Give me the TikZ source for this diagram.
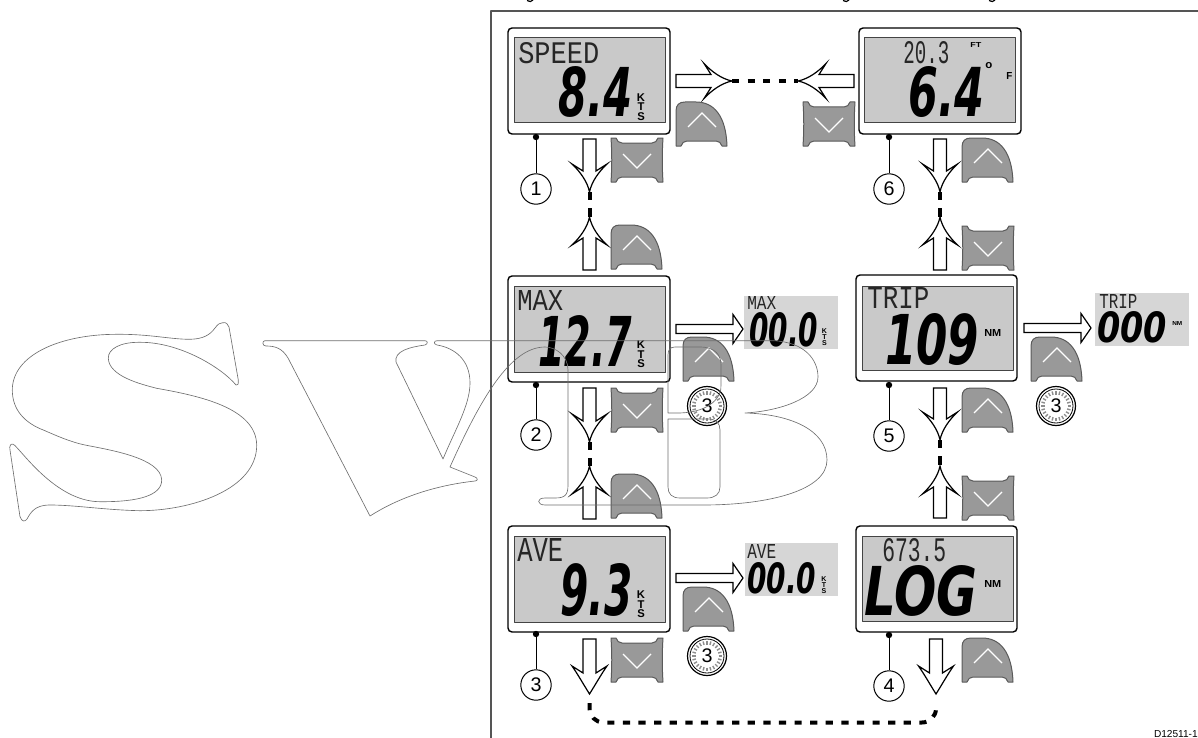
\documentclass[tikz,border=0pt]{standalone}
\usepackage{fontspec}
\usepackage{graphicx}
\setmainfont{Liberation Sans}
\setmonofont{Liberation Mono}
\newfontfamily\lcdfont{DejaVu Sans}
\definecolor{framegray}{HTML}{555555}
\definecolor{lcdgray}{HTML}{C9C9C9}
\definecolor{lcdpale}{HTML}{D6D6D6}
\definecolor{lcdedge}{HTML}{444444}
\definecolor{btngray}{HTML}{999999}
\definecolor{btnedge}{HTML}{5A5A5A}
\definecolor{wmgray}{HTML}{6E6E6E}
\newlength{\pxu}
\setlength{\pxu}{0.25mm}
\newcommand{\lcdtext}[3]{\resizebox{#1\pxu}{#2\pxu}{#3}}

\begin{document}
\begin{tikzpicture}[
  x=0.25mm,y=-0.25mm,line cap=butt,line join=round,
  panel/.style={draw=black,fill=white,line width=0.35mm,rounded corners=1mm},
  screen/.style={draw=lcdedge,fill=lcdgray,line width=0.25mm},
  lcdnum/.style={inner sep=0pt,anchor=south west,font=\lcdfont\bfseries\itshape},
  lcdunit/.style={inner sep=0pt,anchor=south west,font=\bfseries},
  lcdword/.style={inner sep=0pt,anchor=south west,text=black!85,font=\ttfamily},
  unitbig/.style={inner sep=0pt,align=center,font=\fontsize{8}{6.8}\selectfont\bfseries},
  unitsmall/.style={inner sep=0pt,align=center,font=\fontsize{5}{4.3}\selectfont\bfseries},
  stepno/.style={circle,draw=black,fill=white,line width=0.25mm,minimum size=7.6mm,inner sep=0pt,font=\fontsize{14}{16}\selectfont},
  leaddot/.style={circle,fill=black,minimum size=1.6mm,inner sep=0pt},
  clockno/.style={inner sep=0pt,font=\fontsize{14}{16}\selectfont},
  linkdash/.style={black,line width=1mm,dash pattern=on 1.8mm off 2.1mm},
  btn/.style={draw=btnedge,fill=btngray,line width=0.25mm},
  chev/.style={white,line width=0.3mm,line join=miter},
  pics/upbtn/.style={code={
    \draw[btn] (0,44) -- (0,9) .. controls (0,3) and (3,0) .. (9,0) -- (20,0)
      .. controls (38,0) and (50,14) .. (51,44) -- (46,44)
      .. controls (45,41) and (43,39) .. (40,39) -- (11,39)
      .. controls (8,39) and (6,41) .. (5,44) -- cycle;
    \draw[chev] (12,25) -- (26,11) -- (40,25);
  }},
  pics/downbtn/.style={code={
    \draw[btn] (0,0) -- (5,0) .. controls (6,3) and (8,5) .. (11,5) -- (41,5)
      .. controls (44,5) and (46,3) .. (47,0) -- (52,0)
      .. controls (51,15) and (51,29) .. (52,44) -- (47,44)
      .. controls (46,41) and (44,39) .. (41,39) -- (11,39)
      .. controls (8,39) and (6,41) .. (5,44) -- (0,44)
      .. controls (1,29) and (1,15) .. (0,0) -- cycle;
    \draw[chev] (12,16) -- (26,30) -- (40,16);
  }},
  pics/flowarrow/.style n args={3}{code={
    \draw[black,fill=white,line width=0.3mm,line join=miter] (0,0)
      .. controls (#2,-10) and (#3,-20) .. (17.5,-28) -- (6.5,-21) -- (6.5,-#1) -- (-6.5,-#1)
      -- (-6.5,-21) -- (-17.5,-28) .. controls (-#3,-20) and (-#2,-10) .. (0,0) -- cycle;
  }},
  pics/resetarrow/.style={code={
    \draw[black,fill=white,line width=0.3mm,line join=miter] (0,0) -- (-10,14.5) -- (-10,4.5)
      -- (-#1,4.5) -- (-#1,-4.5) -- (-10,-4.5) -- (-10,-14.5) -- cycle;
  }},
  pics/clockface/.style={code={
    \draw[black,fill=white,line width=0.3mm] (0,0) circle (19.5);
    \draw[black,line width=0.2mm] (0,0) circle (17);
    \foreach \a in {0,15,...,345} {
      \draw[black!45,line width=0.35mm] (\a:11.5) -- (\a:15);
    }
  }}
]
  \useasboundingbox (0,0) rectangle (1198,738);

  % Page frame, and what is left of the cut-off heading above it.
  \draw[framegray,line width=0.5mm] (490.5,738) -- (490.5,11) -- (1198,11);
  \draw[black,line width=0.3mm] (527,0.5) .. controls (529,2) and (532,2) .. (533,0);
  \draw[black,line width=0.3mm] (843,0.5) .. controls (845,2) and (848,2) .. (849,0);
  \draw[black,line width=0.3mm] (989,0.5) .. controls (991,2) and (994,2) .. (995,0);

  % Six displays with their screens.
  \foreach \x/\y/\wd/\sx/\sy/\sb in {508/28/162/514/38/123,508/276/162/514/286/372,508/526/162/514/536/622,
      859/28/162/864/38/123,856/275/161/862/286/370,856/526/161/862/536/621} {
    \draw[panel] (\x,\y) rectangle ++(\wd,106);
    \draw[screen] (\sx,\sy) rectangle (\sx+151,\sb);
  }

  % Readings on the screens.
  \foreach \x/\yb/\w/\h/\s [count=\i] in {558/118/74/50/8.4,538/367/94/51/12.7,560/617/72/52/9.3,908/118/76/50/6.4,
      885/366/94/51/109,864/617/113/50/LOG} {
    \node[lcdnum] (num\i) at (\x,\yb) {\lcdtext{\w}{\h}{\s}};
  }
  \foreach \x/\yb/\w/\h/\s [count=\i] in {518/64/81/21/SPEED,517/311/46/20/MAX,517/562/46/23/AVE,903/64/46/22/20.3,
      867/309/62/21/TRIP,882/562/64/23/673.5} {
    \node[lcdword] (word\i) at (\x,\yb) {\lcdtext{\w}{\h}{\s}};
  }
  \foreach \x/\y [count=\i] in {641/107,641/354.5,641/604.5} {
    \node[unitbig] (kts\i) at (\x,\y) {K\\T\\S};
  }
  \node[lcdunit] (ftunit) at (970,48) {\lcdtext{11}{5}{FT}};
  \node[lcdunit] (degunit) at (985,69) {\lcdtext{7}{6}{o}};
  \node[lcdunit] (funit) at (1006,80) {\lcdtext{6}{7}{F}};
  \node[lcdunit] (nmtrip) at (984,337) {\lcdtext{17}{7}{NM}};
  \node[lcdunit] (nmlog) at (984,588) {\lcdtext{17}{7}{NM}};

  % Small zeroed screens.
  \fill[lcdpale] (744,296) rectangle (838,349);
  \fill[lcdpale] (745,543) rectangle (838,596);
  \fill[lcdpale] (1095,293) rectangle (1189,346);
  \node[lcdword] (zmax) at (747,310) {\lcdtext{29}{13}{MAX}};
  \node[lcdword] (zave) at (747,559) {\lcdtext{29}{14}{AVE}};
  \node[lcdword] (ztrip) at (1099,309) {\lcdtext{38}{14}{TRIP}};
  \node[lcdnum] (zmaxnum) at (749,347) {\lcdtext{69}{34}{00.0}};
  \node[lcdnum] (zavenum) at (747,594) {\lcdtext{69}{31}{00.0}};
  \node[lcdnum] (ztripnum) at (1097,343) {\lcdtext{70}{31}{000}};
  \node[unitsmall] (zmaxunit) at (824.5,337.5) {K\\T\\S};
  \node[unitsmall] (zaveunit) at (824,585.5) {K\\T\\S};
  \node[lcdunit] (ztripunit) at (1172,326) {\lcdtext{10}{4}{NM}};

  % Step numbers and their leads.
  \foreach \x/\yd/\yc [count=\i] in {536/137/189,536/385/435,536/634/685,889/635/686,889/385/436,889/137/189} {
    \node[leaddot] (dot\i) at (\x,\yd) {};
    \node[stepno] (step\i) at (\x,\yc) {\i};
    \draw[black,line width=0.25mm] (dot\i) -- (step\i);
  }

  % Arrows pairs meeting at a short dash.
  \foreach \x/\yt/\yu/\ld/\lu [count=\i] in {589.5/192/217/53/53,589.5/442/466/54/53,940/192/217/53/53,940/440/466/52/52} {
    \coordinate (dn\i) at (\x,\yt);
    \coordinate (up\i) at (\x,\yu);
    \draw[black,line width=1mm,dash pattern=on 2.1mm off 2mm] (dn\i) -- (up\i);
    \pic at (dn\i) {flowarrow={\ld}{2}{9}};
    \pic[rotate=180] at (up\i) {flowarrow={\lu}{2}{9}};
  }

  % Top link.
  \coordinate (topr) at (732,81);
  \coordinate (topl) at (798,81);
  \draw[linkdash] (topr) -- (topl);
  \pic[rotate=90] at (topr) {flowarrow={56}{2}{9}};
  \pic[rotate=-90] at (topl) {flowarrow={56}{2}{9}};

  % Bottom link.
  \coordinate (botl) at (589.5,694);
  \coordinate (botr) at (936,694);
  \pic at (botl) {flowarrow={55}{6.25}{11.9}};
  \pic at (botr) {flowarrow={55}{6.25}{11.9}};
  \draw[linkdash,rounded corners=3.5mm] (589.5,703) -- (589.5,722.5) -- (936,722.5) -- (936,703);

  % Reset arrows.
  \pic at (743,329) {resetarrow=67};
  \pic at (743,578) {resetarrow=67};
  \pic at (1091,328) {resetarrow=67};

  % Buttons.
  \foreach \x/\y in {676/102,611/225,683/337,611/474,683/587,1031/337,962/138,962/388,962/638} {
    \pic at (\x,\y) {upbtn};
  }
  \foreach \x/\y in {611/138,611/388,611/638,803/102,962/226,962/476} {
    \pic at (\x,\y) {downbtn};
  }

  % Hold-for-three-seconds dials.
  \foreach \x/\y [count=\i] in {707/406,707/656,1056/406} {
    \pic at (\x,\y) {clockface};
    \node[clockno] (dial\i) at (\x,\y) {3};
  }

  % Watermark outline over everything.
  \begin{scope}[wmgray,line width=0.16mm]
    \draw (222.7,322.7) .. controls (226,322) and (228,324) .. (229,327) -- (238.3,380)
      .. controls (238.5,384) and (238,386) .. (236,385)
      .. controls (222,368) and (180,342) .. (140,342.3)
      .. controls (120,342) and (108,349) .. (108.3,358.3)
      .. controls (109,376) and (140,384) .. (156.7,388.3)
      .. controls (200,396) and (256,408) .. (256.7,445)
      .. controls (257,490) and (190,510.7) .. (140,510.7)
      .. controls (105,510) and (75,505) .. (50,505)
      .. controls (35,505) and (31,512) .. (27,519)
      .. controls (25,522) and (22,522) .. (20,516.7) -- (10,450)
      .. controls (9,446) and (11,443) .. (13.3,444.3)
      .. controls (20,448) and (55,501.7) .. (100,501.7)
      .. controls (140,502) and (161.7,495) .. (161.7,480)
      .. controls (161,458) and (110,450) .. (85,445)
      .. controls (70,442) and (55,435) .. (43.3,430)
      .. controls (25,423) and (12.3,410) .. (12.3,390)
      .. controls (12.3,355) and (60,334.3) .. (116.7,334.3)
      .. controls (150,334) and (170,339.3) .. (190,339.3)
      .. controls (203,339) and (210,335) .. (215,328)
      .. controls (218,324) and (220,322.7) .. (222.7,322.7) -- cycle;
    \draw (265,340.7) -- (425,340.7) .. controls (428,340.7) and (428,344) .. (425,345)
      .. controls (410,347) and (394,351) .. (396,362) -- (443,459)
      .. controls (455,430) and (470,405) .. (470,383)
      .. controls (470,360) and (455,348) .. (437,345)
      .. controls (433,344) and (434,340.7) .. (437,340.7) -- (773,340.7)
      .. controls (805,342) and (818,360) .. (818,377)
      .. controls (818,398) and (780,411) .. (745,413)
      .. controls (790,414) and (827,430) .. (827,460)
      .. controls (827,490) and (770,505) .. (703,505) -- (545,505)
      .. controls (537,505) and (536,498) .. (545,498) -- (555,498)
      .. controls (565,498) and (568,495) .. (568,485) -- (568,370)
      .. controls (568,355) and (555,347) .. (545,347)
      .. controls (510,347) and (480,400) .. (450,467) -- (475,477)
      .. controls (478,478) and (478,481) .. (475,481)
      .. controls (430,486) and (395,500) .. (370,516) -- (288,358)
      .. controls (282,348) and (275,346) .. (266,346)
      .. controls (262,346) and (262,340.7) .. (265,340.7) -- cycle;
    \draw (668,355) .. controls (668,350) and (670,347) .. (675,347) -- (700,347)
      .. controls (715,347) and (721,355) .. (721,365) -- (721,385)
      .. controls (722,397) and (710,412) .. (680,413) -- (668,413) -- cycle;
    \draw (668,419) -- (708,419) .. controls (716,419) and (720,423) .. (720,430) -- (720,487)
      .. controls (720,494) and (715,498) .. (707,498) -- (680,498)
      .. controls (672,498) and (668,494) .. (668,487) -- cycle;
  \end{scope}

  \node[inner sep=0pt,anchor=south east,font=\fontsize{7.2}{9}\selectfont] (drawno) at (1198,737.5) {D12511-1};
\end{tikzpicture}
\end{document}
